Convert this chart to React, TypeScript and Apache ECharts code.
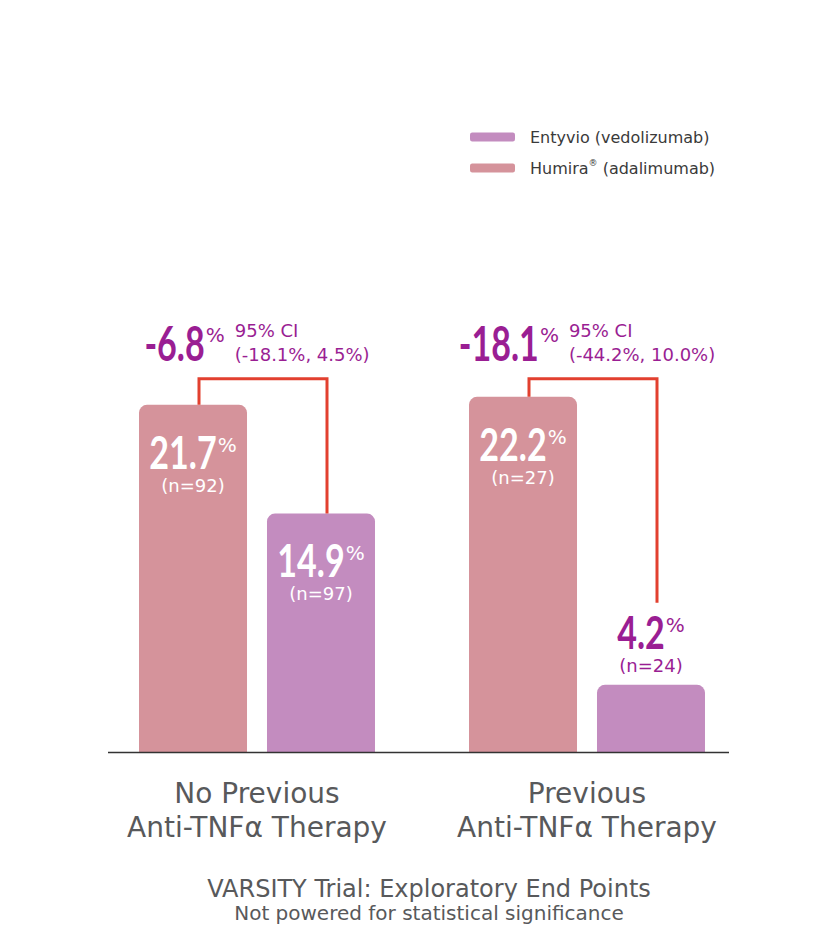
import React, { useEffect, useRef } from "react";
import * as echarts from "echarts";

const categories = ["No Previous\nAnti-TNFα Therapy", "Previous\nAnti-TNFα Therapy"];
const humiraValues = [21.7, 22.2];
const entyvioValues = [14.9, 4.2];
const humiraN = ["(n=92)", "(n=27)"];
const entyvioN = ["(n=97)", "(n=24)"];
const diffValues = ["-6.8", "-18.1"];
const ciLabels = ["(-18.1%, 4.5%)", "(-44.2%, 10.0%)"];
const seriesNames = ["Humira® (adalimumab)", "Entyvio (vedolizumab)"];
const titleText = "VARSITY Trial: Exploratory End Points";
const subtitleText = "Not powered for statistical significance";

const HUMIRA = "#d5939b";
const ENTYVIO = "#c38cbf";
const PURPLE = "#9a1e93";
const RED = "#e2402f";
const GREY = "#58595b";
const NUM_FONT = "Lato, Roboto, sans-serif";
const TXT_FONT = '"DejaVu Sans", sans-serif';
const SX_BAR = 0.74;
const SX_DIFF = 0.71;
const OUTSIDE_THRESHOLD = 8;

const measureCtx = document.createElement("canvas").getContext("2d");
const measure = (text: string, font: string) => {
  if (!measureCtx) return text.length * 10;
  measureCtx.font = font;
  return measureCtx.measureText(text).width;
};

const valueLabel = (
  cx: number,
  cy: number,
  value: string,
  n: string | null,
  color: string,
  size: number,
  sx: number
) => {
  const numW = measure(value, `bold ${size}px ${NUM_FONT}`) * sx;
  const pctW = measure("%", `20px ${TXT_FONT}`);
  const W = numW + 1 + pctW;
  const x0 = cx - W / 2;
  const items: any[] = [
    {
      type: "text",
      x: x0,
      y: cy,
      scaleX: sx,
      style: {
        text: value,
        fontFamily: NUM_FONT,
        fontWeight: "bold",
        fontSize: size,
        fill: color,
        align: "left",
        verticalAlign: "middle",
      },
    },
    {
      type: "text",
      x: x0 + numW + 1,
      y: cy - size * 0.37,
      style: {
        text: "%",
        fontFamily: TXT_FONT,
        fontSize: 20,
        fill: color,
        align: "left",
        verticalAlign: "top",
      },
    },
  ];
  if (n) {
    items.push({
      type: "text",
      x: cx,
      y: cy + 34,
      style: {
        text: n,
        fontFamily: TXT_FONT,
        fontSize: 18,
        fill: color,
        align: "center",
        verticalAlign: "middle",
      },
    });
  }
  return { items, width: W };
};

export default function App() {
  const ref = useRef<HTMLDivElement>(null);
  useEffect(() => {
    if (!ref.current) return;
    const chart = echarts.init(ref.current, null, { renderer: "svg" });
    const maxVal = Math.max(...humiraValues, ...entyvioValues);

    chart.setOption({
      animation: false,
      title: {
        text: titleText,
        subtext: subtitleText,
        left: 424,
        textAlign: "center",
        top: 872,
        itemGap: 2,
        textStyle: { fontFamily: TXT_FONT, fontSize: 24, fontWeight: "normal", color: GREY },
        subtextStyle: { fontFamily: TXT_FONT, fontSize: 20, color: GREY },
      },
      legend: {
        orient: "vertical",
        left: 470,
        top: 127,
        padding: 0,
        itemWidth: 45,
        itemHeight: 9,
        itemGap: 11,
        icon: "roundRect",
        data: [seriesNames[1], seriesNames[0]],
        formatter: (name: string) => "{g| }" + name.replace("®", "{s|®}"),
        textStyle: {
          fontFamily: TXT_FONT,
          fontSize: 16,
          lineHeight: 20,
          color: "#3a3a3a",
          rich: {
            g: { width: 10 },
            s: { fontSize: 9, verticalAlign: "top", fontFamily: TXT_FONT, color: "#3a3a3a" },
          },
        },
      },
      grid: { left: 92, width: 660, top: 272, bottom: 179 },
      xAxis: {
        type: "category",
        data: categories,
        axisLine: { show: false },
        axisTick: { show: false },
        axisLabel: {
          interval: 0,
          margin: 24,
          fontFamily: TXT_FONT,
          fontSize: 28,
          lineHeight: 34,
          color: GREY,
        },
      },
      yAxis: { type: "value", min: 0, max: 30, show: false, splitLine: { show: false } },
      series: [
        {
          name: seriesNames[0],
          type: "bar",
          data: humiraValues,
          barWidth: 108,
          barGap: "18.5%",
          itemStyle: { color: HUMIRA, borderRadius: [8, 8, 0, 0] },
        },
        {
          name: seriesNames[1],
          type: "bar",
          data: entyvioValues,
          barWidth: 108,
          barGap: "18.5%",
          itemStyle: { color: ENTYVIO, borderRadius: [8, 8, 0, 0] },
        },
        {
          type: "custom",
          silent: true,
          clip: false,
          z: 5,
          data: categories.map((_, i) => [i, humiraValues[i]]),
          encode: { x: 0, y: 1 },
          renderItem: (params: any, api: any) => {
            const i = params.dataIndex;
            const [cx] = api.coord([i, 0]);
            const hTop = api.coord([i, humiraValues[i]])[1];
            const eTop = api.coord([i, entyvioValues[i]])[1];
            const level = api.coord([i, maxVal])[1] - 18;
            const eOutside = entyvioValues[i] < OUTSIDE_THRESHOLD;
            const eEnd = eOutside ? eTop - 82 : eTop;
            const hx = cx - 64;
            const ex = cx + 64;
            const xL = cx - 58;
            const xR = cx + 70;

            const hLab = valueLabel(hx, hTop + 47, String(humiraValues[i]), humiraN[i], "#ffffff", 46, SX_BAR);
            const eLab = eOutside
              ? valueLabel(ex, eTop - 53, String(entyvioValues[i]), entyvioN[i], PURPLE, 46, SX_BAR)
              : valueLabel(ex, eTop + 46, String(entyvioValues[i]), entyvioN[i], "#ffffff", 46, SX_BAR);

            // difference label + CI, centred as a block over the category
            const ciFont = `18px ${TXT_FONT}`;
            const ciW = Math.max(measure("95% CI", ciFont), measure(ciLabels[i], ciFont));
            const gap = 10;
            const probe = valueLabel(0, 0, diffValues[i], null, PURPLE, 48, SX_DIFF);
            const blockW = probe.width + gap + ciW;
            const bx = cx - blockW / 2;
            const ty = level - 36;
            const dLab = valueLabel(bx + probe.width / 2, ty, diffValues[i], null, PURPLE, 48, SX_DIFF);

            return {
              type: "group",
              children: [
                {
                  type: "polyline",
                  shape: { points: [[xL, hTop], [xL, level], [xR, level], [xR, eEnd]] },
                  style: { stroke: RED, lineWidth: 3, fill: "none" },
                },
                ...hLab.items,
                ...eLab.items,
                ...dLab.items,
                {
                  type: "text",
                  x: bx + probe.width + gap,
                  y: ty,
                  style: {
                    text: `95% CI\n${ciLabels[i]}`,
                    align: "left",
                    verticalAlign: "middle",
                    fontFamily: TXT_FONT,
                    fontSize: 18,
                    lineHeight: 24,
                    fill: PURPLE,
                  },
                },
              ],
            };
          },
        },
      ],
      graphic: [
        {
          type: "line",
          shape: { x1: 108, y1: 752.5, x2: 729, y2: 752.5 },
          style: { stroke: "#333333", lineWidth: 1.5 },
          z: 10,
        },
      ],
    });
    return () => chart.dispose();
  }, []);
  return (
    <div
      ref={ref}
      style={{ position: "fixed", left: 0, top: 0, width: 838, height: 931, background: "#fff" }}
    />
  );
}
